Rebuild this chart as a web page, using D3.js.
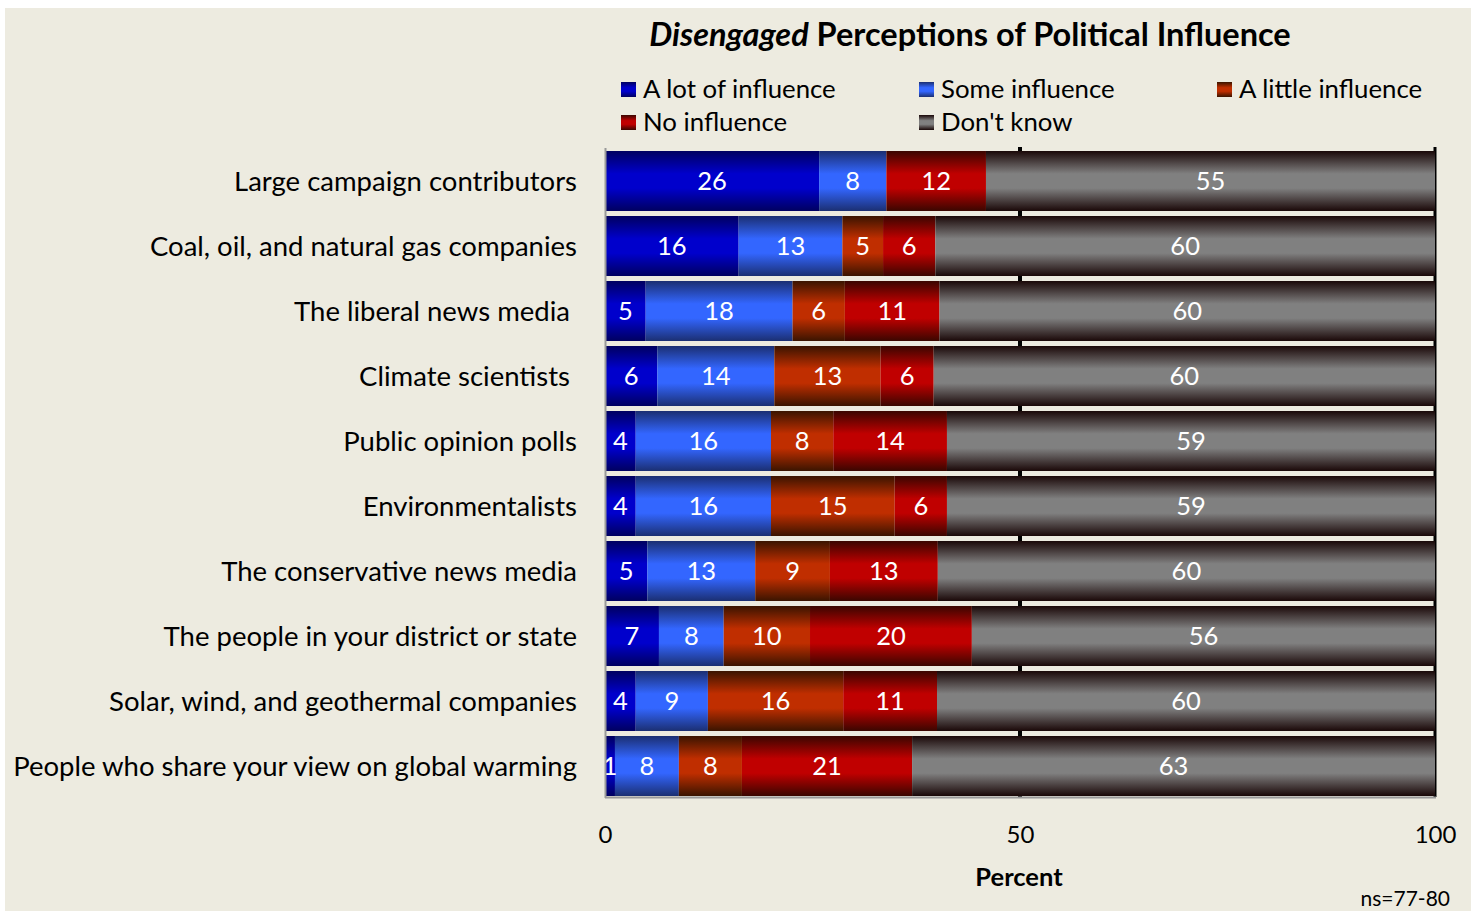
<!DOCTYPE html>
<html lang="en">
<head>
<meta charset="utf-8">
<title>Disengaged Perceptions of Political Influence</title>
<style>
  html, body { margin: 0; padding: 0; background: #ffffff; }
  svg { display: block; font-family: Lato, "Open Sans", sans-serif; }
</style>
</head>
<body>
<svg id="chart"></svg>
<script src="https://d3js.org/d3.v7.min.js"></script>
<script>
// data (segment widths estimated, labels are the rounded values)
const categories = [
  "Large campaign contributors",
  "Coal, oil, and natural gas companies",
  "The liberal news media ",
  "Climate scientists ",
  "Public opinion polls",
  "Environmentalists",
  "The conservative news media",
  "The people in your district or state",
  "Solar, wind, and geothermal companies",
  "People who share your view on global warming"
];
const seriesNames = ["A lot of influence", "Some influence", "A little influence", "No influence", "Don't know"];
const aLot    = [25.8, 16.1,  4.9,  6.3,  3.7,  3.7,  5.1,  6.5,  3.7,  1.2];
const some    = [ 8.1, 12.5, 17.7, 14.1, 16.3, 16.3, 13.0,  7.8,  8.7,  7.7];
const little  = [ 0.0,  4.9,  6.3, 12.8,  7.5, 14.9,  9.0, 10.4, 16.3,  7.6];
const noInfl  = [12.0,  6.3, 11.4,  6.4, 13.7,  6.3, 13.0, 19.5, 11.3, 20.5];
const dontKnow= [54.5, 60.2, 59.7, 60.4, 58.8, 58.8, 59.9, 55.8, 60.0, 63.0];
const xTicks = [0, 50, 100];

const seriesValues = [aLot, some, little, noInfl, dontKnow];
// dark edge / bright middle for the shaded bars
const shades = [
  ["#000060", "#0000cc"],
  ["#1b2f72", "#3366ff"],
  ["#3a1400", "#c02e00"],
  ["#3a0600", "#c00000"],
  ["#1a0808", "#808080"]
];

const W = 1477, H = 911;
const svg = d3.select("#chart").attr("width", W).attr("height", H);

svg.append("rect").attr("x", 5).attr("y", 8).attr("width", 1466).attr("height", H - 8)
  .attr("fill", "#edebe0");

const defs = svg.append("defs");
shades.forEach((s, i) => {
  const g = defs.append("linearGradient").attr("id", "grad" + i)
    .attr("x1", 0).attr("y1", 0).attr("x2", 0).attr("y2", 1);
  g.append("stop").attr("offset", "0%").attr("stop-color", s[0]);
  g.append("stop").attr("offset", "38%").attr("stop-color", s[1]);
  g.append("stop").attr("offset", "62%").attr("stop-color", s[1]);
  g.append("stop").attr("offset", "100%").attr("stop-color", s[0]);
});

const x = d3.scaleLinear().domain([0, 100]).range([605, 1435]).clamp(true);
const y = d3.scaleBand().domain(categories).range([148.5, 798.5]).paddingInner(5 / 65).paddingOuter(2.5 / 65);

// title
const title = svg.append("text").attr("x", 970).attr("y", 46).attr("text-anchor", "middle")
  .style("font-size", "32.5px").style("font-weight", "bold").attr("fill", "#000");
title.append("tspan").style("font-style", "italic").text("Disengaged");
title.append("tspan").text(" Perceptions of Political Influence");

// legend
const legendPos = [[621, 89], [919, 89], [1217, 89], [621, 122], [919, 122]];
const legend = svg.append("g").attr("id", "legend");
const li = legend.selectAll("g").data(seriesNames).enter().append("g")
  .attr("transform", (d, i) => "translate(" + legendPos[i][0] + "," + legendPos[i][1] + ")");
li.append("rect").attr("x", 0).attr("y", -7).attr("width", 15).attr("height", 15)
  .attr("fill", (d, i) => "url(#grad" + i + ")");
li.append("text").attr("x", 22).attr("dy", "0.35em").style("font-size", "25.8px").attr("fill", "#000")
  .text(d => d);

// gridlines at 50 and 100 (black, behind the bars)
svg.selectAll("line.grid").data([50, 100]).enter().append("line").attr("class", "grid")
  .attr("x1", d => x(d)).attr("x2", d => x(d)).attr("y1", 147).attr("y2", 797)
  .attr("stroke", "#000").attr("stroke-width", d => d === 50 ? 4 : 3);

// stacked bars
const rows = categories.map((c, r) => {
  let acc = 0;
  return seriesValues.map((vals, s) => {
    const seg = { cat: c, s: s, v: vals[r], x0: acc, x1: acc + vals[r] };
    acc += vals[r];
    return seg;
  });
});
const segs = rows.flat();

svg.append("g").selectAll("rect").data(segs).enter().append("rect")
  .attr("x", d => x(d.x0))
  .attr("y", d => y(d.cat))
  .attr("width", d => Math.max(0, x(d.x1) - x(d.x0)))
  .attr("height", y.bandwidth())
  .attr("fill", d => "url(#grad" + d.s + ")");

svg.append("g").selectAll("text").data(segs.filter(d => d.v > 0)).enter().append("text")
  .attr("x", d => (x(d.x0) + x(d.x1)) / 2)
  .attr("y", d => y(d.cat) + y.bandwidth() / 2)
  .attr("dy", "0.35em").attr("text-anchor", "middle")
  .style("font-size", "25.5px").attr("fill", "#fff")
  .text(d => Math.round(d.v));

// axis lines
svg.append("line").attr("x1", 605.5).attr("x2", 605.5).attr("y1", 148).attr("y2", 798)
  .attr("stroke", "#9a9a9a").attr("stroke-width", 2);
svg.append("line").attr("x1", 605).attr("x2", 1436).attr("y1", 797.5).attr("y2", 797.5)
  .attr("stroke", "#9a9a9a").attr("stroke-width", 2);

// category labels
svg.append("g").selectAll("text").data(categories).enter().append("text")
  .attr("x", 577).attr("y", d => y(d) + y.bandwidth() / 2).attr("dy", "0.35em")
  .attr("text-anchor", "end").style("white-space", "pre")
  .style("font-size", "27.5px").attr("fill", "#000")
  .text(d => d);

// x tick labels
const xAxis = d3.axisBottom(x).tickValues(xTicks).tickSize(0).tickPadding(0);
const xg = svg.append("g").attr("transform", "translate(0,826)").call(xAxis);
xg.select(".domain").remove();
xg.selectAll("text").style("font-size", "24px").style("font-family", "Lato, 'Open Sans', sans-serif")
  .attr("fill", "#000");

svg.append("text").attr("x", 1019).attr("y", 886).attr("text-anchor", "middle")
  .style("font-size", "25.5px").style("font-weight", "bold").text("Percent");

svg.append("text").attr("x", 1450).attr("y", 906).attr("text-anchor", "end")
  .style("font-size", "21px").text("ns=77-80");
</script>
</body>
</html>
